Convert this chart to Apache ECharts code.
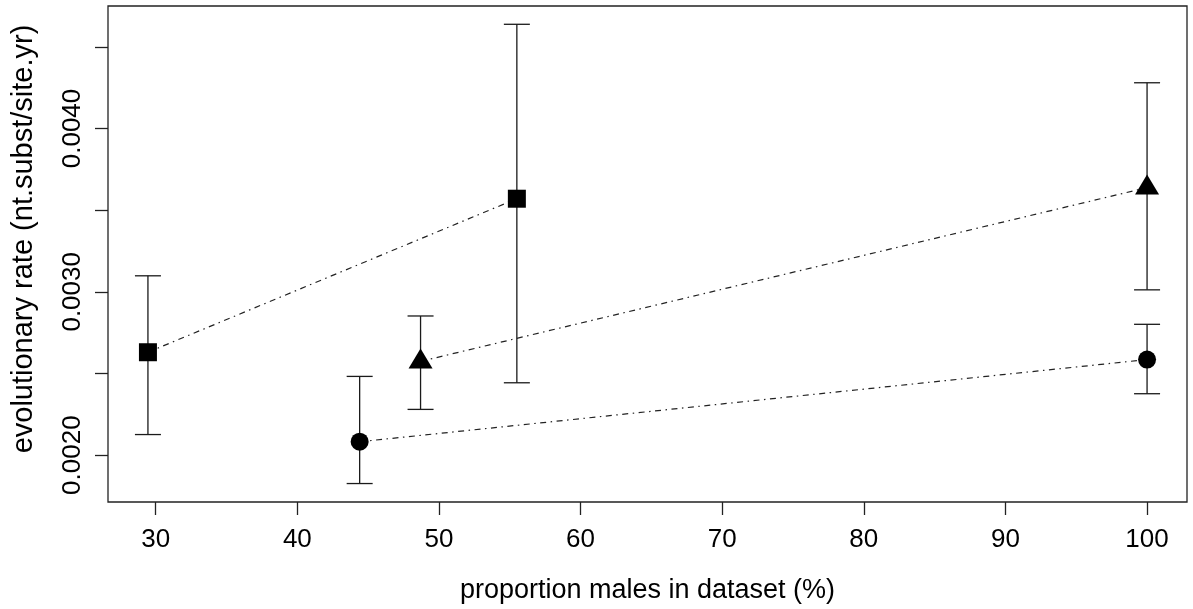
<!DOCTYPE html>
<html>
<head>
<meta charset="utf-8">
<title>evolutionary rate vs proportion males</title>
<script src="https://cdn.jsdelivr.net/npm/echarts@6/dist/echarts.min.js"></script>
<style>
  html, body { margin: 0; padding: 0; background: #fff; }
  #main { width: 1193px; height: 609px; }
</style>
</head>
<body>
<div id="main"></div>
<script>
// squares
const squareX = [29.45, 55.5];
const squareY = [0.00263, 0.00357];
const squareLo = [0.002126, 0.002443];
const squareHi = [0.003098, 0.004638];

// triangles
const triangleX = [48.7, 100];
const triangleY = [0.002574, 0.003638];
const triangleLo = [0.00228, 0.003012];
const triangleHi = [0.002852, 0.00428];

// circles
const circleX = [44.4, 100];
const circleY = [0.002082, 0.002585];
const circleLo = [0.001826, 0.002376];
const circleHi = [0.002482, 0.002801];

const xTicks = [30, 40, 50, 60, 70, 80, 90, 100];
const yTicks = [0.0020, 0.0025, 0.0030, 0.0035, 0.0040, 0.0045];
const yLabels = [0.0020, 0.0030, 0.0040];

const FONT = '"Liberation Sans", Arial, Helvetica, sans-serif';

function pairs(xs, ys) {
    return xs.map((x, i) => [x, ys[i]]);
}

function bars(xs, lo, hi) {
    return xs.map((x, i) => [x, lo[i], hi[i]]);
}

const errData = [].concat(
    bars(squareX, squareLo, squareHi),
    bars(triangleX, triangleLo, triangleHi),
    bars(circleX, circleLo, circleHi)
);

function renderErr(params, api) {
    const x = api.value(0);
    const pLo = api.coord([x, api.value(1)]);
    const pHi = api.coord([x, api.value(2)]);
    const half = 13;
    const style = { stroke: '#1a1a1a', lineWidth: 1.3 };
    return {
        type: 'group',
        children: [
            { type: 'line', shape: { x1: pLo[0], y1: pLo[1], x2: pHi[0], y2: pHi[1] }, style: style },
            { type: 'line', shape: { x1: pHi[0] - half, y1: pHi[1], x2: pHi[0] + half, y2: pHi[1] }, style: style },
            { type: 'line', shape: { x1: pLo[0] - half, y1: pLo[1], x2: pLo[0] + half, y2: pLo[1] }, style: style }
        ]
    };
}

const dashLine = { color: '#222', width: 1.2, type: [6, 4.5, 1.5, 4.5] };

var chartDom = document.getElementById('main');
var myChart = echarts.init(chartDom);
var option;

option = {
    animation: false,
    grid: {
        left: 108,
        right: 6,
        top: 6,
        bottom: 106,
        show: true,
        borderColor: '#222',
        borderWidth: 1.3,
        backgroundColor: 'transparent'
    },
    xAxis: {
        type: 'value',
        min: 26.63,
        max: 102.82,
        name: 'proportion males in dataset (%)',
        nameLocation: 'middle',
        nameGap: 75,
        nameTextStyle: { fontFamily: FONT, fontSize: 27, color: '#000' },
        axisLine: { show: false },
        axisTick: { show: true, length: 13, customValues: xTicks, lineStyle: { color: '#222', width: 1.3 } },
        axisLabel: {
            customValues: xTicks,
            margin: 25,
            fontFamily: FONT,
            fontSize: 26,
            color: '#000'
        },
        splitLine: { show: false }
    },
    yAxis: {
        type: 'value',
        min: 0.001713,
        max: 0.00475,
        name: 'evolutionary rate (nt.subst/site.yr)',
        nameLocation: 'middle',
        nameGap: 70,
        nameTextStyle: { fontFamily: FONT, fontSize: 29, color: '#000', padding: [0, 0, 0, 30] },
        axisLine: { show: false },
        axisTick: { show: true, length: 13, customValues: yTicks, lineStyle: { color: '#222', width: 1.3 } },
        axisLabel: {
            customValues: yLabels,
            rotate: 90,
            margin: 22,
            fontFamily: FONT,
            fontSize: 26,
            color: '#000',
            formatter: v => v.toFixed(4)
        },
        splitLine: { show: false }
    },
    series: [
        {
            type: 'custom',
            renderItem: renderErr,
            data: errData,
            encode: { x: 0, y: [1, 2] },
            z: 1
        },
        {
            name: 'squares',
            type: 'line',
            data: pairs(squareX, squareY),
            symbol: 'rect',
            symbolSize: 18,
            showAllSymbol: true,
            itemStyle: { color: '#000' },
            lineStyle: dashLine,
            z: 3
        },
        {
            name: 'triangles',
            type: 'line',
            data: pairs(triangleX, triangleY),
            symbol: 'triangle',
            symbolSize: [24, 20],
            symbolOffset: [0, -3],
            showAllSymbol: true,
            itemStyle: { color: '#000' },
            lineStyle: dashLine,
            z: 3
        },
        {
            name: 'circles',
            type: 'line',
            data: pairs(circleX, circleY),
            symbol: 'circle',
            symbolSize: 18,
            showAllSymbol: true,
            itemStyle: { color: '#000' },
            lineStyle: dashLine,
            z: 3
        }
    ]
};
option && myChart.setOption(option);
</script>
</body>
</html>
